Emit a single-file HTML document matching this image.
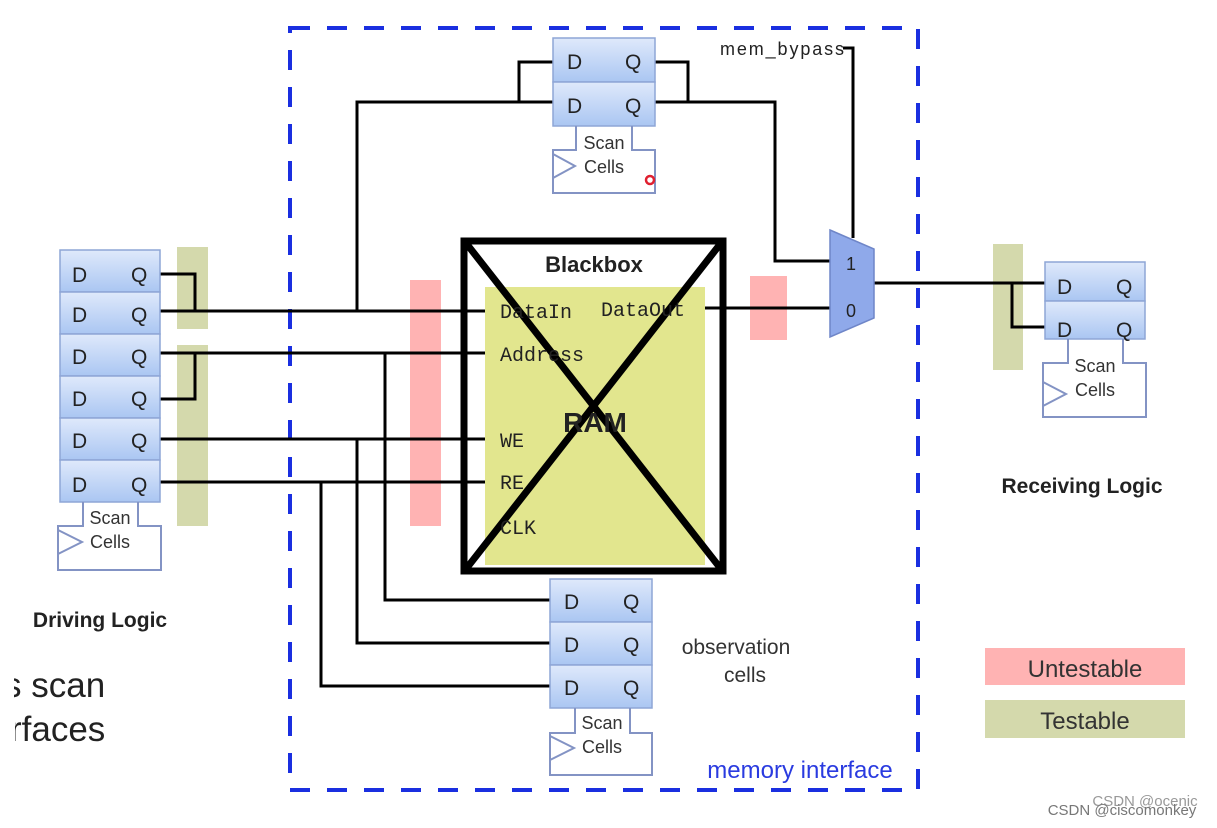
<!DOCTYPE html>
<html><head><meta charset="utf-8"><style>
html,body{margin:0;padding:0;background:#fff;}
svg{display:block;font-family:"Liberation Sans",sans-serif;}
.m{font-family:"Liberation Mono",monospace;font-size:20px;fill:#222;}
.dq{font-size:21px;fill:#222;}
.sc{font-size:18px;fill:#333;}
</style></head><body>
<svg width="1217" height="828" viewBox="0 0 1217 828" xmlns="http://www.w3.org/2000/svg">
<defs>
<linearGradient id="cg" x1="0" y1="0" x2="0" y2="1">
<stop offset="0" stop-color="#dfe9fb"/><stop offset="1" stop-color="#aac6f2"/></linearGradient>
</defs>
<rect width="1217" height="828" fill="#fff"/>

<rect x="177" y="247" width="31" height="82" fill="#d4d9ac"/>
<rect x="177" y="345" width="31" height="181" fill="#d4d9ac"/>
<rect x="410" y="280" width="31" height="246" fill="#ffb3b3"/>
<rect x="750" y="276" width="37" height="64" fill="#ffb3b3"/>
<rect x="993" y="244" width="30" height="126" fill="#d4d9ac"/>

<rect x="290" y="28" width="628" height="762" fill="none" stroke="#1a2fe0" stroke-width="4" stroke-dasharray="20,17"/>

<rect x="485" y="287" width="220" height="278" fill="#e2e68e"/>

<g stroke="#000" stroke-width="3" fill="none">
<polyline points="160,274 195,274 195,311"/>
<line x1="160" y1="311" x2="485" y2="311"/>
<polyline points="357,311 357,102 553,102"/>
<line x1="160" y1="353" x2="485" y2="353"/>
<polyline points="160,399 195,399 195,353"/>
<line x1="160" y1="439" x2="485" y2="439"/>
<line x1="160" y1="482" x2="485" y2="482"/>
<polyline points="385,353 385,600 553,600"/>
<polyline points="357,439 357,643 553,643"/>
<polyline points="321,482 321,686 553,686"/>
<polyline points="553,62 519,62 519,102"/>
<polyline points="655,62 688,62 688,102"/>
<polyline points="655,102 775,102 775,261 832,261"/>
<line x1="705" y1="308" x2="832" y2="308"/>
<polyline points="843,48 853,48 853,238"/>
<line x1="874" y1="283" x2="1045" y2="283"/>
<polyline points="1012,283 1012,327 1045,327"/>
</g>

<g stroke="#000" stroke-width="7" fill="none">
<rect x="464" y="241" width="259" height="330"/>
<line x1="466" y1="243" x2="721" y2="569"/>
<line x1="721" y1="243" x2="466" y2="569"/>
</g>
<text x="594" y="272" text-anchor="middle" font-size="22" font-weight="bold" fill="#222">Blackbox</text>
<text x="595" y="432" text-anchor="middle" font-size="28" font-weight="bold" fill="#222">RAM</text>
<text class="m" x="500" y="318">DataIn</text>
<text class="m" x="601" y="316">DataOut</text>
<text class="m" x="500" y="361">Address</text>
<text class="m" x="500" y="447">WE</text>
<text class="m" x="500" y="489">RE</text>
<text class="m" x="500" y="534">CLK</text>

<polygon points="830,230 874,249 874,318 830,337" fill="#8fa9ea" stroke="#6f86c8" stroke-width="1.5"/>
<text x="851" y="270" text-anchor="middle" font-size="18" fill="#222">1</text>
<text x="851" y="317" text-anchor="middle" font-size="18" fill="#222">0</text>
<text x="720" y="55" font-size="18" fill="#222" textLength="124">mem_bypass</text>

<g stroke="#8ea6d6" stroke-width="1.5">
<rect x="60" y="250" width="100" height="42" fill="url(#cg)"/>
<rect x="60" y="292" width="100" height="42" fill="url(#cg)"/>
<rect x="60" y="334" width="100" height="42" fill="url(#cg)"/>
<rect x="60" y="376" width="100" height="42" fill="url(#cg)"/>
<rect x="60" y="418" width="100" height="42" fill="url(#cg)"/>
<rect x="60" y="460" width="100" height="42" fill="url(#cg)"/>
<rect x="553" y="38" width="102" height="44" fill="url(#cg)"/>
<rect x="553" y="82" width="102" height="44" fill="url(#cg)"/>
<rect x="1045" y="262" width="100" height="39" fill="url(#cg)"/>
<rect x="1045" y="301" width="100" height="38" fill="url(#cg)"/>
<rect x="550" y="579" width="102" height="43" fill="url(#cg)"/>
<rect x="550" y="622" width="102" height="43" fill="url(#cg)"/>
<rect x="550" y="665" width="102" height="43" fill="url(#cg)"/>
</g>
<g stroke="#8393c4" stroke-width="2" fill="none">
<path d="M83,502 V526 H58 V570 H161 V526 H138 V502"/>
<path d="M58,530 L82,542 L58,554"/>
<path d="M576,126 V150 H553 V193 H655 V150 H632 V126"/>
<path d="M553,154 L575,166 L553,178"/>
<path d="M1068,339 V363 H1043 V417 H1146 V363 H1123 V339"/>
<path d="M1043,382 L1066,394 L1043,406"/>
<path d="M575,708 V733 H550 V775 H652 V733 H630 V708"/>
<path d="M550,736 L574,748 L550,760"/>
</g>
<g class="dq">
<text x="72" y="282">D</text><text x="131" y="282">Q</text>
<text x="72" y="322">D</text><text x="131" y="322">Q</text>
<text x="72" y="364">D</text><text x="131" y="364">Q</text>
<text x="72" y="406">D</text><text x="131" y="406">Q</text>
<text x="72" y="448">D</text><text x="131" y="448">Q</text>
<text x="72" y="492">D</text><text x="131" y="492">Q</text>
<text x="567" y="69">D</text><text x="625" y="69">Q</text>
<text x="567" y="113">D</text><text x="625" y="113">Q</text>
<text x="1057" y="294">D</text><text x="1116" y="294">Q</text>
<text x="1057" y="337">D</text><text x="1116" y="337">Q</text>
<text x="564" y="609">D</text><text x="623" y="609">Q</text>
<text x="564" y="652">D</text><text x="623" y="652">Q</text>
<text x="564" y="695">D</text><text x="623" y="695">Q</text>
</g>
<g class="sc" text-anchor="middle">
<text x="110" y="524">Scan</text><text x="110" y="548">Cells</text>
<text x="604" y="149">Scan</text><text x="604" y="173">Cells</text>
<text x="1095" y="372">Scan</text><text x="1095" y="396">Cells</text>
<text x="602" y="729">Scan</text><text x="602" y="753">Cells</text>
</g>
<circle cx="650" cy="180" r="4" fill="none" stroke="#e02030" stroke-width="2.5"/>

<text x="736" y="654" text-anchor="middle" font-size="21" fill="#333">observation</text>
<text x="745" y="682" text-anchor="middle" font-size="21" fill="#333">cells</text>
<text x="800" y="778" text-anchor="middle" font-size="24" fill="#2a3be0">memory interface</text>
<text x="100" y="627" text-anchor="middle" font-size="21" font-weight="bold" fill="#222">Driving Logic</text>
<text x="1082" y="493" text-anchor="middle" font-size="21" font-weight="bold" fill="#222">Receiving Logic</text>
<text x="4" y="697" font-size="35" fill="#222">s scan</text>
<rect x="0" y="660" width="14" height="45" fill="#fff"/>
<text x="10" y="741" font-size="35" fill="#222">rfaces</text>
<rect x="0" y="705" width="15" height="45" fill="#fff"/>

<rect x="985" y="648" width="200" height="37" fill="#ffb3b3"/>
<text x="1085" y="677" text-anchor="middle" font-size="24" fill="#333">Untestable</text>
<rect x="985" y="700" width="200" height="38" fill="#d4d9ac"/>
<text x="1085" y="729" text-anchor="middle" font-size="24" fill="#333">Testable</text>
<text x="1145" y="806" text-anchor="middle" font-size="15" fill="#999">CSDN @ocenic</text>
<text x="1122" y="815" text-anchor="middle" font-size="15" fill="#777">CSDN @ciscomonkey</text>
</svg>
</body></html>
